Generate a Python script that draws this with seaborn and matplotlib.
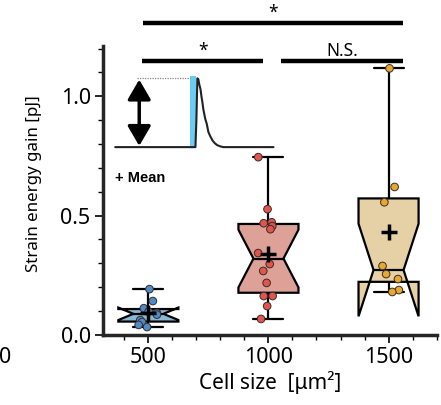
import numpy as np
import pandas as pd
import matplotlib
matplotlib.use("Agg")
import matplotlib.pyplot as plt
import seaborn as sns
from matplotlib.ticker import MultipleLocator, FormatStrFormatter

# strain energy gain per cell (pJ), grouped by cell size (um^2)
sizes = [500, 1000, 1500]
gain_500 = [0.192, 0.142, 0.112, 0.098, 0.092, 0.085, 0.062, 0.054, 0.042, 0.033]
gain_1000 = [0.745, 0.527, 0.472, 0.468, 0.456, 0.443, 0.343, 0.297, 0.268,
             0.218, 0.163, 0.163, 0.121, 0.067]
gain_1500 = [1.117, 0.620, 0.556, 0.289, 0.255, 0.234, 0.188, 0.180]

box_colours = {500: "#7cbbe3", 1000: "#e9998b", 1500: "#f1d59c"}
point_colours = {500: "#4d8cc6", 1000: "#e0564c", 1500: "#e6a92e"}

# significance brackets: (x start, x end, y, label)
brackets = [(479, 1562, 1.305, "*"), (475, 979, 1.146, "*"), (1054, 1562, 1.146, "N.S.")]

# inset sketch of one strain energy trace
trace_x = [362, 696, 700, 704, 708, 712, 717, 721, 725, 729, 737, 743, 750, 758,
           767, 777, 787, 800, 812, 1021]
trace_y = [0.787, 0.787, 0.90, 1.075, 1.072, 1.050, 1.030, 1.000, 0.975, 0.945,
           0.905, 0.885, 0.850, 0.832, 0.815, 0.803, 0.795, 0.790, 0.787, 0.787]
pulse_x = [675, 700]
pulse_y = [0.787, 1.084]

df = pd.DataFrame({
    "size": [500] * len(gain_500) + [1000] * len(gain_1000) + [1500] * len(gain_1500),
    "gain": gain_500 + gain_1000 + gain_1500,
})

sns.set_style("ticks")
plt.rcParams["font.family"] = ["Noto Sans", "DejaVu Sans"]
plt.rcParams["text.color"] = "black"
plt.rcParams["axes.labelcolor"] = "black"
plt.rcParams["xtick.color"] = "black"
plt.rcParams["ytick.color"] = "black"

fig = plt.figure(figsize=(4.41, 4.05), dpi=100)
ax = fig.add_axes([0.234, 0.173, 0.756, 0.713])

sns.boxplot(
    data=df, x="size", y="gain", hue="size", native_scale=True, notch=True,
    whis=(0, 100), width=0.5, palette=box_colours, linecolor="black",
    linewidth=1.6, showfliers=False, legend=False, ax=ax,
)
np.random.seed(3)
sns.stripplot(
    data=df, x="size", y="gain", hue="size", native_scale=True, jitter=0.09,
    palette=point_colours, edgecolor="#3a2a2a", linewidth=0.7, size=5.5,
    legend=False, ax=ax, zorder=3,
)
means = df.groupby("size")["gain"].mean()
ax.plot(means.index, means.values, "+", color="black", ms=11, mew=2.5, zorder=4)

for x0, x1, y, label in brackets:
    ax.plot([x0, x1], [y, y], color="black", lw=3.2, clip_on=False, solid_capstyle="butt")
    ax.text((x0 + x1) / 2, y + 0.008, label, ha="center", va="bottom", fontsize=12.5,
            clip_on=False)

# inset
ax.fill_between(pulse_x, pulse_y[0], pulse_y[1], color="#6ccdf2", lw=0, zorder=2)
ax.plot(trace_x, trace_y, color="#222222", lw=1.5, zorder=3)
ax.plot([454, 675], [1.075, 1.075], color="#888888", lw=0.9, ls=(0, (1, 1)))
ax.annotate("", xy=(462, 0.792), xytext=(462, 1.07),
            arrowprops=dict(arrowstyle="<|-|>,head_length=0.55,head_width=0.32",
                            color="black", lw=2.5, mutation_scale=22,
                            shrinkA=0, shrinkB=0))
ax.text(362, 0.657, "+ Mean", fontsize=10.5, fontweight="bold", ha="left", va="center",
        family=["Liberation Sans", "DejaVu Sans"])

ax.set_xlim(312, 1700)
ax.set_ylim(0, 1.21)
ax.xaxis.set_major_locator(MultipleLocator(500))
ax.xaxis.set_minor_locator(MultipleLocator(100))
ax.yaxis.set_major_locator(MultipleLocator(0.5))
ax.yaxis.set_minor_locator(MultipleLocator(0.1))
ax.yaxis.set_major_formatter(FormatStrFormatter("%.1f"))
ax.tick_params(which="major", length=6, width=1.2, labelsize=15.5, pad=3)
ax.tick_params(which="minor", length=3.5, width=1.0)
for side in ["top", "right"]:
    ax.spines[side].set_visible(False)
for side in ["left", "bottom"]:
    ax.spines[side].set_linewidth(2.5)

ax.set_xlabel("Cell size  [μm²]", fontsize=15, labelpad=2)
ax.set_ylabel("Strain energy gain [pJ]", fontsize=12.2)
ax.yaxis.set_label_coords(-0.183, 0.525)
fig.text(0.012, 0.118, "0", fontsize=15.5, ha="center", va="center")

fig.savefig("out.png", dpi=100)
